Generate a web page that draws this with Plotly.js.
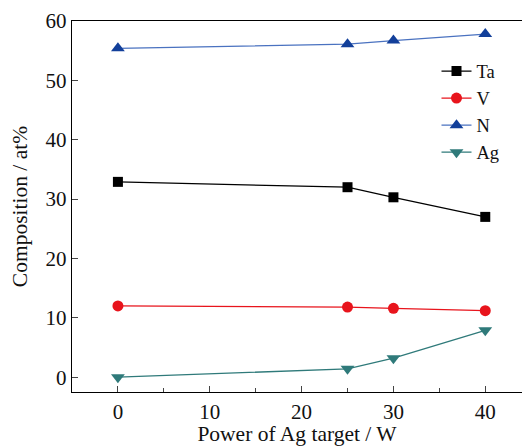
<!DOCTYPE html>
<html><head><meta charset="utf-8">
<script src="https://cdn.plot.ly/plotly-3.0.1.min.js"></script>
<style>html,body{margin:0;padding:0;background:#fff}</style>
</head><body><div id="chart" style="width:522px;height:446px"></div>
<script>
const power = [0, 25, 30, 40];
const ta = [32.9, 32.0, 30.3, 27.0];
const v = [12.0, 11.8, 11.6, 11.2];
const n = [55.4, 56.1, 56.7, 57.8];
const ag = [0.0, 1.4, 3.2, 7.9];
const xTicks = [0, 10, 20, 30, 40];
const yTicks = [0, 10, 20, 30, 40, 50, 60];

const F = 'Liberation Serif, Times New Roman, serif';
function tr(name, y, lc, mc, sym, size){
  return {x: power, y: y, name: name, type: 'scatter', mode: 'lines+markers',
    line: {color: lc, width: 1.3}, marker: {color: mc, symbol: sym, size: size}};
}
const data = [
  tr('Ta', ta, '#000000', '#000000', 'square', 10),
  tr('V', v, '#e8141c', '#e8141c', 'circle', 11),
  tr('N', n, '#4a72c0', '#123f9a', 'triangle-up', 12),
  tr('Ag', ag, '#2f7a7a', '#2f7a7a', 'triangle-down', 12)
];
const layout = {
  width: 522, height: 446,
  margin: {l: 72, r: 0, t: 21, b: 54},
  paper_bgcolor: '#fff', plot_bgcolor: '#fff',
  font: {family: F, size: 21, color: '#111'},
  showlegend: true,
  legend: {x: 0.81, y: 0.915, xanchor: 'left', yanchor: 'top', bgcolor: 'rgba(0,0,0,0)',
    font: {family: F, size: 18.5}, tracegroupgap: 0, itemwidth: 30},
  xaxis: {range: [-5, 44], tickvals: xTicks, ticks: 'inside', ticklen: 6, tickwidth: 1,
    minor: {tickvals: [5, 15, 25, 35], ticks: 'inside', ticklen: 4, tickwidth: 1},
    showline: true, linecolor: '#000', linewidth: 1.3, mirror: true, showgrid: false, zeroline: false,
    tickfont: {family: F, size: 21},
    title: {text: 'Power of Ag target / W', font: {family: F, size: 21.5}, standoff: 6}},
  yaxis: {range: [-2.5, 60], tickvals: yTicks, ticks: 'inside', ticklen: 6, tickwidth: 1,
    showline: true, linecolor: '#000', linewidth: 1.3, showgrid: false, zeroline: false,
    tickfont: {family: F, size: 21},
    title: {text: 'Composition / at%', font: {family: F, size: 21.5}, standoff: 12}}
};
Plotly.newPlot('chart', data, layout, {displayModeBar: false, staticPlot: true});
</script></body></html>
